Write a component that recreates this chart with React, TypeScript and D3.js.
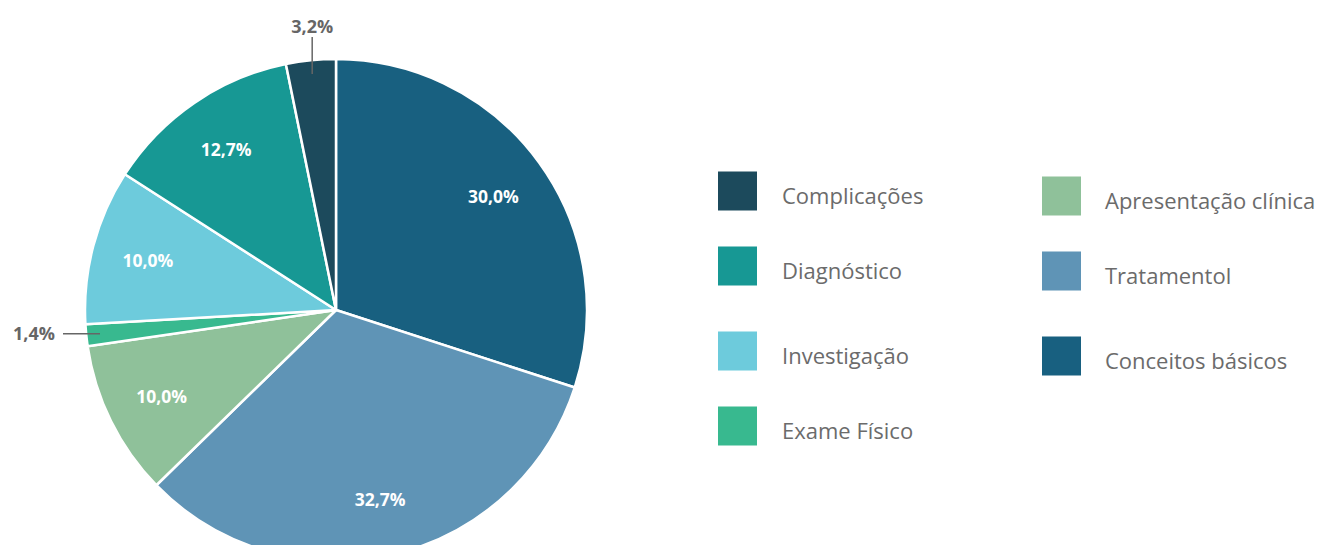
import React from 'react';
import * as d3 from 'd3';

// slices clockwise from 12 o'clock
const categories = ['Conceitos básicos', 'Tratamentol', 'Apresentação clínica', 'Exame Físico', 'Investigação', 'Diagnóstico', 'Complicações'];
const values = [30.0, 32.7, 10.0, 1.4, 10.0, 12.7, 3.2];
const colors = ['#186080', '#5f94b6', '#8fc19a', '#38b98f', '#6dcbdc', '#179894', '#1c4a5c'];
const valueLabels = ['30,0%', '32,7%', '10,0%', '1,4%', '10,0%', '12,7%', '3,2%'];

// legend layout: two columns
const legendCol1 = ['Complicações', 'Diagnóstico', 'Investigação', 'Exame Físico'];
const legendCol2 = ['Apresentação clínica', 'Tratamentol', 'Conceitos básicos'];

const W = 1324;
const H = 553;
const cx = 336;
const cy = 310;
const R = 251;
const FONT = "'Open Sans', 'Noto Sans', sans-serif";

type Slice = { name: string; value: number; color: string; label: string };

const data: Slice[] = categories.map((name, i) => ({
  name,
  value: values[i],
  color: colors[i],
  label: valueLabels[i],
}));

// rows are not perfectly even in the reference
const col1Rows = [191, 266, 351, 426];
const col2Rows = [196, 271, 356];

export default function App() {
  const pie = d3.pie<Slice>().value(d => d.value).sort(null);
  const arcs = pie(data);
  const arc = d3.arc<d3.PieArcDatum<Slice>>().innerRadius(0).outerRadius(R);
  const colorOf = (name: string) => colors[categories.indexOf(name)];

  return (
    <div style={{ margin: -8 }}>
      <svg width={W} height={H} style={{ display: 'block', background: '#fff' }}>
        <g transform={`translate(${cx},${cy})`}>
          {arcs.map((a, i) => (
            <path key={i} d={arc(a) || ''} fill={a.data.color} stroke="#fff" strokeWidth={2.5} strokeLinejoin="round" />
          ))}
          {arcs.map((a, i) => {
            const mid = (a.startAngle + a.endAngle) / 2;
            const sx = Math.sin(mid);
            const sy = -Math.cos(mid);
            if (a.data.value < 5) {
              const ix = sx * R * 0.945;
              const iy = sy * R * 0.945;
              const vertical = Math.abs(sy) > Math.abs(sx);
              if (vertical) {
                const ey = iy - 37;
                return (
                  <g key={`l${i}`}>
                    <line x1={ix} y1={iy} x2={ix} y2={ey} stroke="#666" strokeWidth={1.5} />
                    <text x={ix} y={ey - 11} textAnchor="middle" dominantBaseline="central" fontFamily={FONT} fontWeight={700} fontSize={18} fill="#666">
                      {a.data.label}
                    </text>
                  </g>
                );
              }
              const ex = ix - 37;
              return (
                <g key={`l${i}`}>
                  <line x1={ix} y1={iy} x2={ex} y2={iy} stroke="#666" strokeWidth={1.5} />
                  <text x={ex - 8} y={iy - 1} textAnchor="end" dominantBaseline="central" fontFamily={FONT} fontWeight={700} fontSize={18} fill="#666">
                    {a.data.label}
                  </text>
                </g>
              );
            }
            const lr = R * 0.775;
            return (
              <text key={`l${i}`} x={sx * lr} y={sy * lr} textAnchor="middle" dominantBaseline="central" fontFamily={FONT} fontWeight={700} fontSize={17.5} fill="#fff">
                {a.data.label}
              </text>
            );
          })}
        </g>
        {legendCol1.map((n, i) => (
          <g key={n} transform={`translate(718,${col1Rows[i]})`}>
            <rect x={0} y={-19.5} width={39} height={39} fill={colorOf(n)} />
            <text x={64} y={4} dominantBaseline="central" fontFamily={FONT} fontSize={22} fill="#6b6b6b">{n}</text>
          </g>
        ))}
        {legendCol2.map((n, i) => (
          <g key={n} transform={`translate(1042,${col2Rows[i]})`}>
            <rect x={0} y={-19.5} width={39} height={39} fill={colorOf(n)} />
            <text x={63} y={4} dominantBaseline="central" fontFamily={FONT} fontSize={22} fill="#6b6b6b">{n}</text>
          </g>
        ))}
      </svg>
    </div>
  );
}
